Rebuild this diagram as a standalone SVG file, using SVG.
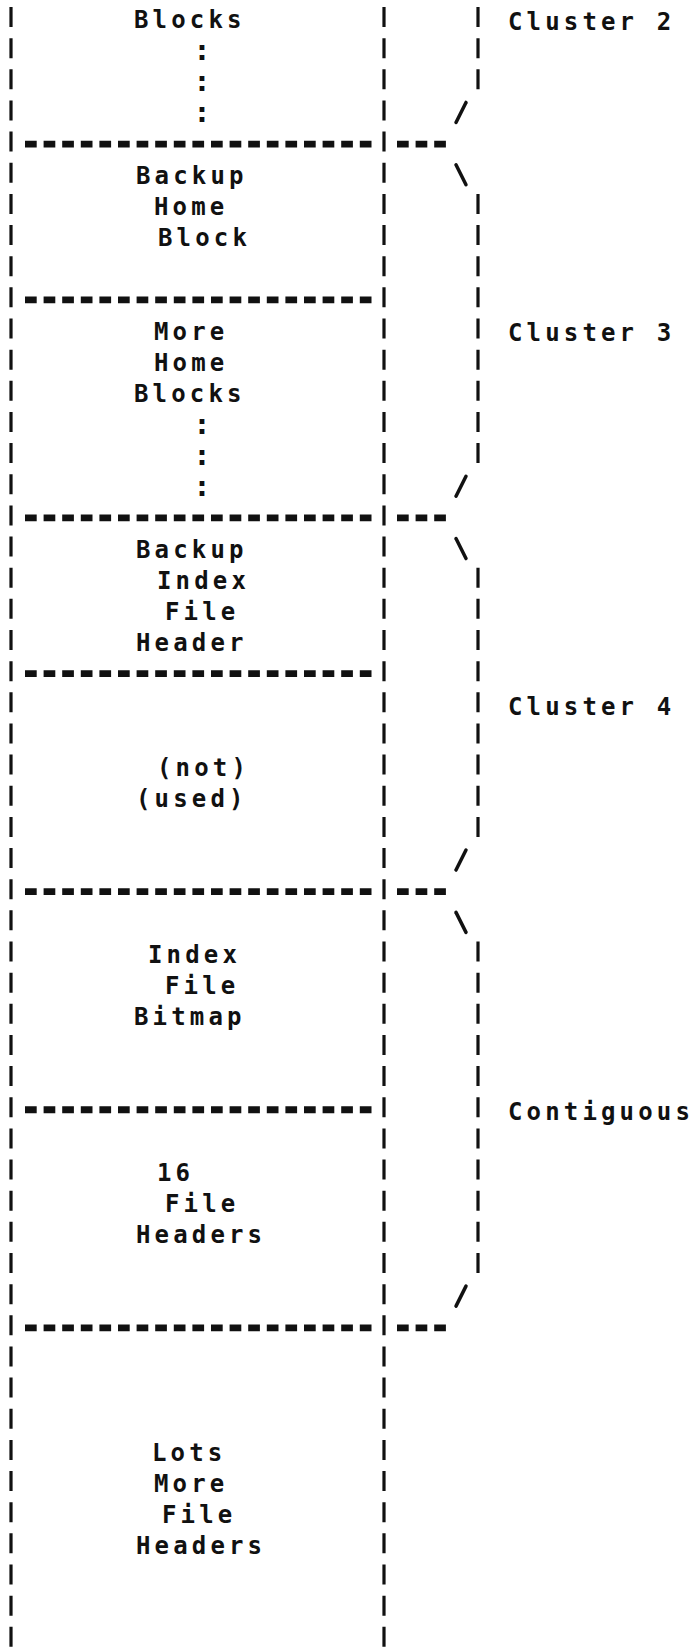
<svg xmlns="http://www.w3.org/2000/svg" width="695" height="1648" viewBox="0 0 695 1648">
<style>
.t{font-family:"DejaVu Sans Mono","Liberation Mono",monospace;font-size:24px;font-weight:bold;letter-spacing:4.15px;fill:#111}
.c{font-family:"DejaVu Sans Mono","Liberation Mono",monospace;font-size:29px;font-weight:bold;text-anchor:middle;fill:#111}
.bar{stroke:#111;stroke-width:3.2;stroke-dasharray:20 11.15;fill:none}
.sep{stroke:#111;stroke-width:6.8;stroke-dasharray:11.7 6.9;fill:none}
.sl{stroke:#111;stroke-width:3.5;stroke-linecap:round;fill:none}
</style>
<rect width="695" height="1648" fill="#fff"/>
<g id="connectors">
  <g id="frame">
    <line class="bar" x1="11" y1="7" x2="11" y2="1648"/>
    <line class="bar" x1="384" y1="7" x2="384" y2="1648"/>
    <line class="sep" x1="25" y1="144.1" x2="371.5" y2="144.1"/>
    <line class="sep" x1="25" y1="299.85" x2="371.5" y2="299.85"/>
    <line class="sep" x1="25" y1="517.9" x2="371.5" y2="517.9"/>
    <line class="sep" x1="25" y1="673.65" x2="371.5" y2="673.65"/>
    <line class="sep" x1="25" y1="891.7" x2="371.5" y2="891.7"/>
    <line class="sep" x1="25" y1="1109.75" x2="371.5" y2="1109.75"/>
    <line class="sep" x1="25" y1="1327.8" x2="371.5" y2="1327.8"/>
  </g>
  <g id="braces">
    <line class="bar" x1="478" y1="7" x2="478" y2="89.3"/>
    <line class="bar" x1="478" y1="193.9" x2="478" y2="463.1"/>
    <line class="bar" x1="478" y1="567.7" x2="478" y2="836.9"/>
    <line class="bar" x1="478" y1="941.5" x2="478" y2="1273"/>
    <line class="sep" x1="397" y1="144.1" x2="445.9" y2="144.1"/>
    <line class="sep" x1="397" y1="517.9" x2="445.9" y2="517.9"/>
    <line class="sep" x1="397" y1="891.7" x2="445.9" y2="891.7"/>
    <line class="sep" x1="397" y1="1327.8" x2="445.9" y2="1327.8"/>
    <line class="sl" x1="456" y1="122.45" x2="466" y2="102.45"/>
    <line class="sl" x1="456" y1="164.75" x2="466" y2="184.75"/>
    <line class="sl" x1="456" y1="496.25" x2="466" y2="476.25"/>
    <line class="sl" x1="456" y1="538.55" x2="466" y2="558.55"/>
    <line class="sl" x1="456" y1="870.05" x2="466" y2="850.05"/>
    <line class="sl" x1="456" y1="912.35" x2="466" y2="932.35"/>
    <line class="sl" x1="456" y1="1306.15" x2="466" y2="1286.15"/>
  </g>
</g>
<g id="node-blocks">
  <text class="t" x="134" y="28">Blocks</text>
  <text class="c" x="202" y="60.15">:</text>
  <text class="c" x="202" y="91.3">:</text>
  <text class="c" x="202" y="122.45">:</text>
</g>
<g id="node-backup-home-block">
  <text class="t" x="136" y="183.75">Backup</text>
  <text class="t" x="154" y="214.9">Home</text>
  <text class="t" x="158" y="246.05">Block</text>
</g>
<g id="node-more-home-blocks">
  <text class="t" x="154" y="339.5">More</text>
  <text class="t" x="154" y="370.65">Home</text>
  <text class="t" x="134" y="401.8">Blocks</text>
  <text class="c" x="202" y="433.95">:</text>
  <text class="c" x="202" y="465.1">:</text>
  <text class="c" x="202" y="496.25">:</text>
</g>
<g id="node-backup-index-file-header">
  <text class="t" x="136" y="557.55">Backup</text>
  <text class="t" x="157" y="588.7">Index</text>
  <text class="t" x="165" y="619.85">File</text>
  <text class="t" x="136" y="651">Header</text>
</g>
<g id="node-not-used">
  <text class="t" x="157" y="775.6">(not)</text>
  <text class="t" x="136" y="806.75">(used)</text>
</g>
<g id="node-index-file-bitmap">
  <text class="t" x="148" y="962.5">Index</text>
  <text class="t" x="165" y="993.65">File</text>
  <text class="t" x="134" y="1024.8">Bitmap</text>
</g>
<g id="node-16-file-headers">
  <text class="t" x="157" y="1180.55">16</text>
  <text class="t" x="165" y="1211.7">File</text>
  <text class="t" x="136" y="1242.85">Headers</text>
</g>
<g id="node-lots-more-file-headers">
  <text class="t" x="152" y="1460.9">Lots</text>
  <text class="t" x="154" y="1492.05">More</text>
  <text class="t" x="162" y="1523.2">File</text>
  <text class="t" x="136" y="1554.35">Headers</text>
</g>
<g id="label-cluster-2"><text class="t" x="508" y="29.5">Cluster 2</text></g>
<g id="label-cluster-3"><text class="t" x="508" y="341">Cluster 3</text></g>
<g id="label-cluster-4"><text class="t" x="508" y="714.8">Cluster 4</text></g>
<g id="label-contiguous"><text class="t" x="508" y="1119.75">Contiguous</text></g>
</svg>
